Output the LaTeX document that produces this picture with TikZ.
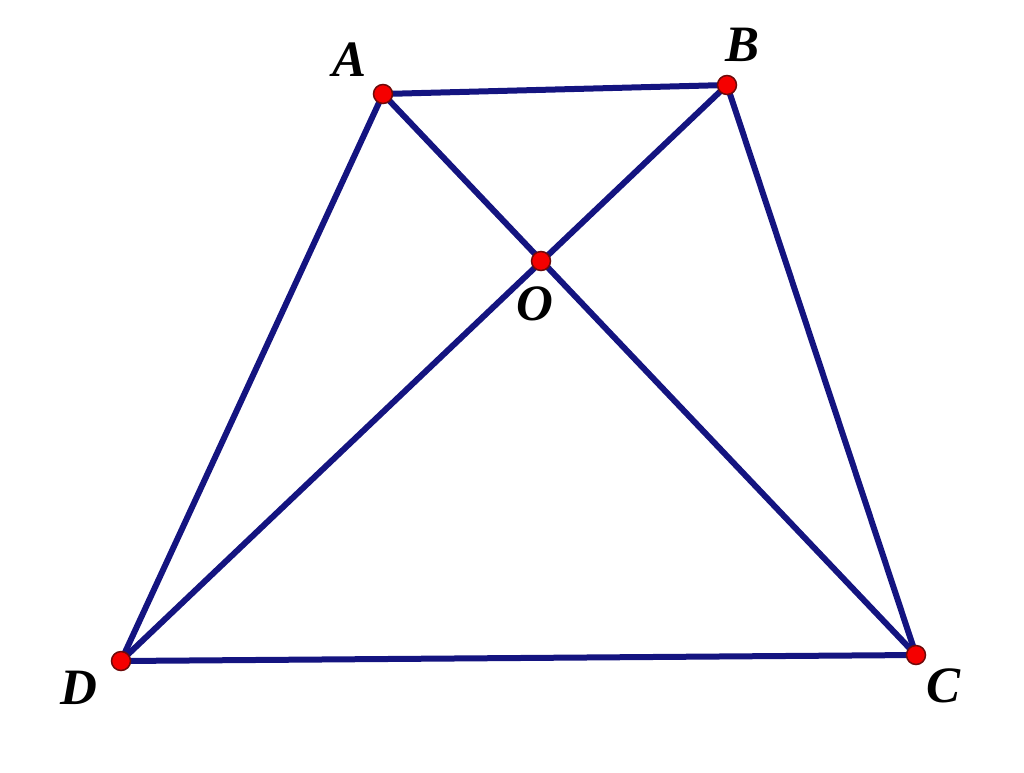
\documentclass[tikz,border=0pt]{standalone}
\usepackage{fontspec}
\setmainfont{Liberation Serif}
\definecolor{edgecol}{RGB}{20,20,128}
\definecolor{ptred}{RGB}{245,0,0}
\definecolor{ptedge}{RGB}{110,10,10}
\begin{document}
\begin{tikzpicture}[x=1pt,y=-1pt,
  edge/.style={draw=edgecol,line width=6pt,line cap=round},
  pt/.style={circle,fill=ptred,draw=ptedge,line width=1.5pt,minimum size=19pt,inner sep=0pt},
  lab/.style={font=\fontsize{51}{55}\selectfont\bfseries\itshape,inner sep=0pt}]
\useasboundingbox (0,0) rectangle (1024,772);
\coordinate (A) at (383,94);
\coordinate (B) at (727,85);
\coordinate (O) at (541,261);
\coordinate (D) at (121,661);
\coordinate (C) at (916,655);
\draw[edge] (A) -- (B) -- (C) -- (D) -- cycle;
\draw[edge] (A) -- (C);
\draw[edge] (B) -- (D);
\node[pt] (pA) at (A) {};
\node[pt] (pB) at (B) {};
\node[pt] (pO) at (O) {};
\node[pt] (pD) at (D) {};
\node[pt] (pC) at (C) {};
\node[lab] (lA) at (350,60) {A};
\node[lab] (lB) at (742,45) {B};
\node[lab] (lO) at (535,304) {O};
\node[lab] (lD) at (79,688) {D};
\node[lab] (lC) at (943,686) {C};
\end{tikzpicture}
\end{document}
